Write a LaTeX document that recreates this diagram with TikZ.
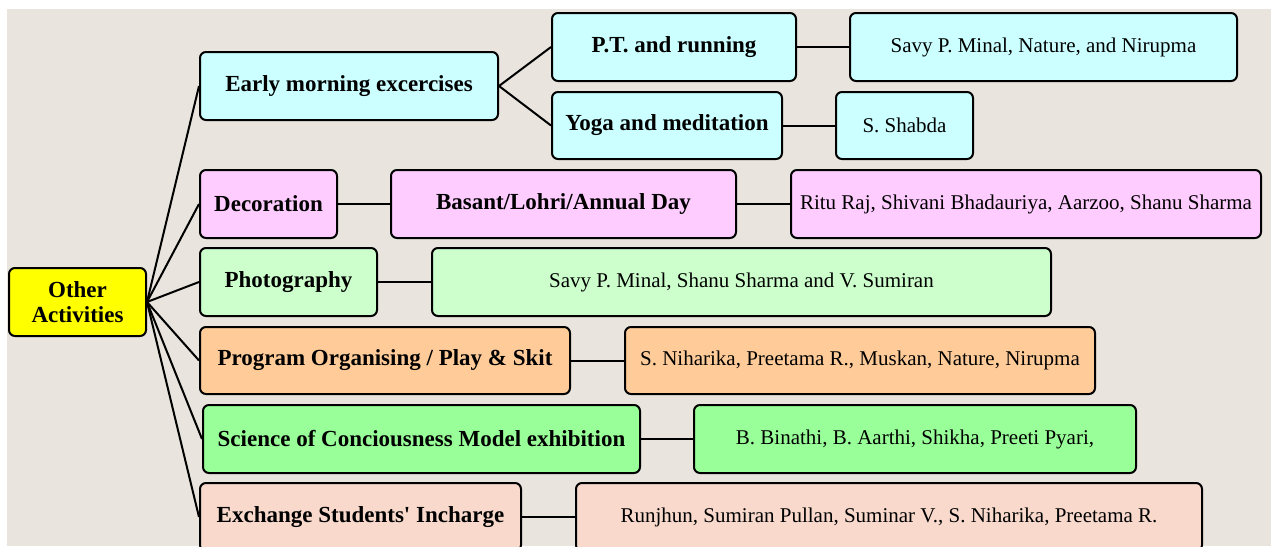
\documentclass[tikz,border=0pt]{standalone}
\usepackage{fontspec}
\setmainfont{Liberation Serif}
\definecolor{bgbeige}{RGB}{233,229,222}
\definecolor{ccyan}{RGB}{204,255,255}
\definecolor{cpink}{RGB}{255,204,255}
\definecolor{clgreen}{RGB}{204,255,204}
\definecolor{corange}{RGB}{255,204,153}
\definecolor{cgreen}{RGB}{153,255,153}
\definecolor{csalmon}{RGB}{248,217,204}
\definecolor{cyellow}{RGB}{255,255,0}
\newcommand\mybox[7]{%
  \pgfmathsetmacro\mywd{#4-#2}%
  \pgfmathsetmacro\myht{#5-#3}%
  \node[#6, minimum width=\mywd pt, minimum height=\myht pt, anchor=north west] (#1) at (#2,#3) {#7};}
\begin{document}
\begin{tikzpicture}[x=1pt,y=-1pt,
  boxbase/.style={draw=black, line width=2pt, rounded corners=6pt, inner sep=0pt, align=center, text=black},
  headbox/.style={boxbase, font=\fontsize{23}{25}\selectfont\bfseries},
  namebox/.style={boxbase, font=\fontsize{21}{24}\selectfont},
  conn/.style={draw=black, line width=2pt}]
\fill[white] (0,0) rectangle (1271,546);
\clip (0,0) rectangle (1271,546);
\fill[bgbeige] (7,9) rectangle (1271,546);
% root
\mybox{root}{8}{267}{145}{335}{headbox, fill=cyellow}{Other\\Activities}
% early morning
\mybox{early}{199}{51}{497}{119}{headbox, fill=ccyan}{Early morning excercises}
\mybox{pt}{551}{12}{795}{80}{headbox, fill=ccyan}{P.T. and running}
\mybox{yoga}{551}{91}{781}{158}{headbox, fill=ccyan}{Yoga and meditation}
\mybox{savya}{849}{12}{1236}{80}{namebox, fill=ccyan}{Savy P. Minal, Nature, and Nirupma}
\mybox{shabda}{835}{91}{972}{158}{namebox, fill=ccyan}{S. Shabda}
% decoration
\mybox{deco}{199}{169}{336}{237}{headbox, fill=cpink}{Decoration}
\mybox{basant}{390}{169}{735}{237}{headbox, fill=cpink}{Basant/Lohri/Annual Day}
\mybox{ritu}{790}{169}{1260}{237}{namebox, fill=cpink}{Ritu Raj, Shivani Bhadauriya, Aarzoo, Shanu Sharma}
% photography
\mybox{photo}{199}{247}{376}{315}{headbox, fill=clgreen}{Photography}
\mybox{savyb}{431}{247}{1050}{315}{namebox, fill=clgreen}{Savy P. Minal, Shanu Sharma and V. Sumiran}
% program
\mybox{prog}{199}{326}{569}{393}{headbox, fill=corange}{Program Organising / Play \& Skit}
\mybox{nih}{624}{326}{1094}{393}{namebox, fill=corange}{S. Niharika, Preetama R., Muskan, Nature, Nirupma}
% science
\mybox{sci}{202}{404}{639}{472}{headbox, fill=cgreen}{Science of Conciousness Model exhibition}
\mybox{bin}{693}{404}{1135}{472}{namebox, fill=cgreen}{B. Binathi, B. Aarthi, Shikha, Preeti Pyari,}
% exchange
\mybox{exch}{199}{482}{520}{550}{headbox, fill=csalmon}{Exchange Students\textquotesingle{} Incharge}
\mybox{run}{575}{482}{1201}{550}{namebox, fill=csalmon}{Runjhun, Sumiran Pullan, Suminar V., S. Niharika, Preetama R.}
% connectors
\foreach \t in {early,deco,photo,prog,sci,exch}
  \draw[conn] (root.east) -- (\t.west);
\draw[conn] (early.east) -- (pt.west);
\draw[conn] (early.east) -- (yoga.west);
\draw[conn] (pt.east) -- (savya.west);
\draw[conn] (yoga.east) -- (shabda.west);
\draw[conn] (deco.east) -- (basant.west);
\draw[conn] (basant.east) -- (ritu.west);
\draw[conn] (photo.east) -- (savyb.west);
\draw[conn] (prog.east) -- (nih.west);
\draw[conn] (sci.east) -- (bin.west);
\draw[conn] (exch.east) -- (run.west);
\end{tikzpicture}
\end{document}
